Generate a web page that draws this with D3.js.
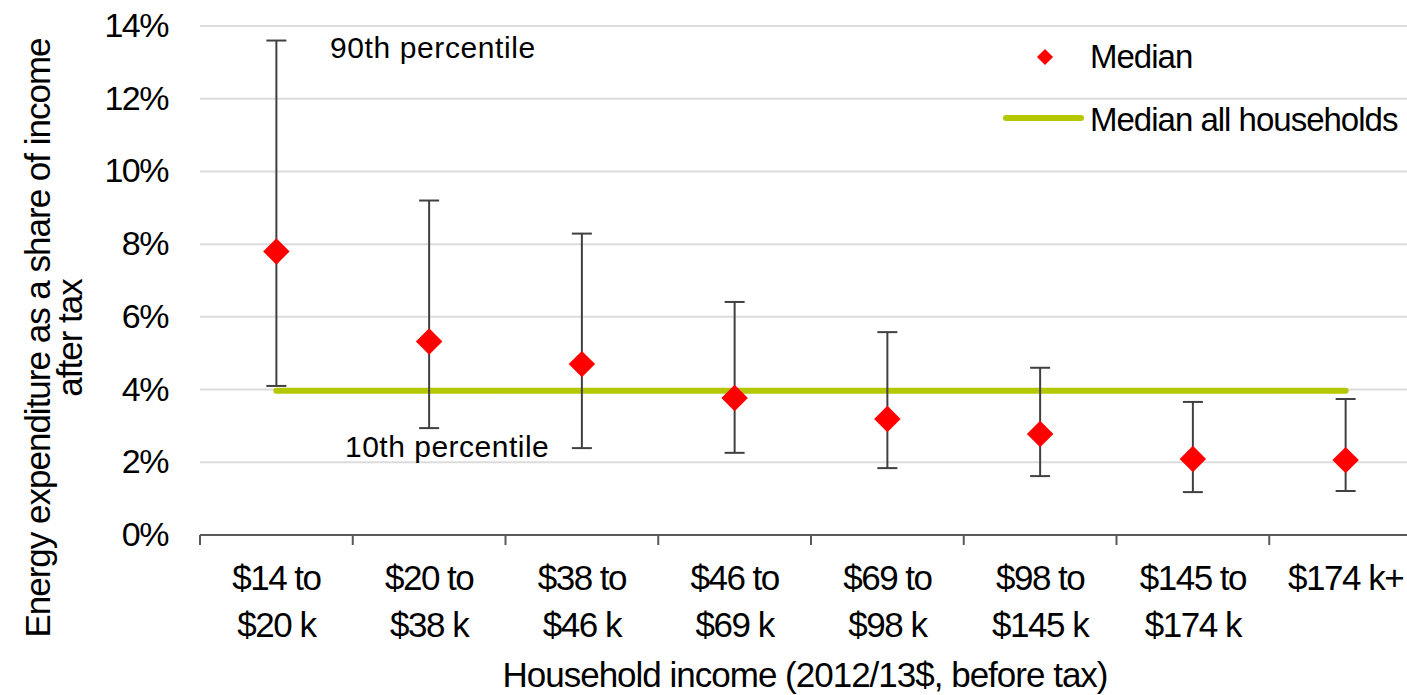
<!DOCTYPE html>
<html>
<head>
<meta charset="utf-8">
<script src="https://cdn.jsdelivr.net/npm/d3@7"></script>
<style>
  body { margin: 0; background: #fff; }
  svg text { font-family: "Liberation Sans", Arial, sans-serif; fill: #000; }
</style>
</head>
<body>
<div id="chart"></div>
<script>
// income groups, first and second lines of each tick label
var groups = ["g1", "g2", "g3", "g4", "g5", "g6", "g7", "g8"];
var labelTop = ["$14 to", "$20 to", "$38 to", "$46 to", "$69 to", "$98 to", "$145 to", "$174 k+"];
var labelBottom = ["$20 k", "$38 k", "$46 k", "$69 k", "$98 k", "$145 k", "$174 k", ""];

// energy expenditure share of after-tax income
var median = [0.078, 0.0532, 0.047, 0.0377, 0.0319, 0.0278, 0.0209, 0.0206];
var p90 = [0.136, 0.092, 0.0829, 0.0641, 0.0558, 0.046, 0.0366, 0.0374];
var p10 = [0.041, 0.0294, 0.0239, 0.0226, 0.0184, 0.0162, 0.0118, 0.0121];
var medianAll = 0.0397;

var yTicks = [0, 0.02, 0.04, 0.06, 0.08, 0.10, 0.12, 0.14];

function main() {
    var width = 1407, height = 695;

    var svg = d3.select("#chart")
        .append("svg")
        .attr("width", width)
        .attr("height", height);

    var x = d3.scaleBand()
        .domain(groups)
        .range([200, 1422])
        .padding(0);

    var y = d3.scaleLinear()
        .domain([0, 0.14])
        .range([535, 26]);

    // gridlines
    svg.append("g")
        .selectAll("line")
        .data(yTicks.slice(1))
        .enter()
        .append("line")
        .attr("x1", 200)
        .attr("x2", width)
        .attr("y1", function (d) { return y(d); })
        .attr("y2", function (d) { return y(d); })
        .attr("stroke", "#dcdcdc")
        .attr("stroke-width", 2);

    // y tick labels
    svg.append("g")
        .selectAll("text")
        .data(yTicks)
        .enter()
        .append("text")
        .attr("x", 168)
        .attr("y", function (d) { return y(d) + 11; })
        .attr("text-anchor", "end")
        .attr("font-size", "34px")
        .attr("letter-spacing", "-1.5px")
        .text(function (d) { return Math.round(d * 100) + "%"; });

    // x axis line and ticks at band edges
    var xAxis = svg.append("g");
    xAxis.append("line")
        .attr("x1", 200).attr("x2", width)
        .attr("y1", y(0)).attr("y2", y(0))
        .attr("stroke", "#595959")
        .attr("stroke-width", 2);
    xAxis.selectAll("line.tick")
        .data(groups)
        .enter()
        .append("line")
        .attr("class", "tick")
        .attr("x1", function (d) { return x(d); })
        .attr("x2", function (d) { return x(d); })
        .attr("y1", y(0))
        .attr("y2", y(0) + 10)
        .attr("stroke", "#595959")
        .attr("stroke-width", 2);

    // x tick labels (two lines)
    var cx = function (i) { return x(groups[i]) + x.bandwidth() / 2; };
    svg.append("g")
        .selectAll("text")
        .data(groups)
        .enter()
        .append("text")
        .attr("x", function (d, i) { return cx(i); })
        .attr("y", 590)
        .attr("text-anchor", "middle")
        .attr("font-size", "35px")
        .attr("letter-spacing", "-1.5px")
        .text(function (d, i) { return labelTop[i]; });
    svg.append("g")
        .selectAll("text")
        .data(groups)
        .enter()
        .append("text")
        .attr("x", function (d, i) { return cx(i); })
        .attr("y", 637)
        .attr("text-anchor", "middle")
        .attr("font-size", "35px")
        .attr("letter-spacing", "-1.5px")
        .text(function (d, i) { return labelBottom[i]; });

    // axis titles
    svg.append("text")
        .attr("x", 805)
        .attr("y", 687)
        .attr("text-anchor", "middle")
        .attr("font-size", "35px")
        .attr("letter-spacing", "-1px")
        .text("Household income (2012/13$, before tax)");

    var yTitle = svg.append("text")
        .attr("transform", "translate(50,338) rotate(-90)")
        .attr("text-anchor", "middle")
        .attr("font-size", "35px")
        .attr("letter-spacing", "-1px");
    yTitle.append("tspan").attr("x", 0).attr("y", 0).text("Energy expenditure as a share of income");
    yTitle.append("tspan").attr("x", 0).attr("y", 32).text("after tax");

    // median all households line
    svg.append("line")
        .attr("x1", cx(0))
        .attr("x2", cx(groups.length - 1))
        .attr("y1", y(medianAll))
        .attr("y2", y(medianAll))
        .attr("stroke", "#b5c700")
        .attr("stroke-width", 6)
        .attr("stroke-linecap", "round");

    // error bars from 10th to 90th percentile
    var bars = svg.append("g")
        .selectAll("g")
        .data(groups)
        .enter()
        .append("g")
        .attr("stroke", "#404040")
        .attr("stroke-width", 2);
    bars.append("line")
        .attr("x1", function (d, i) { return cx(i); })
        .attr("x2", function (d, i) { return cx(i); })
        .attr("y1", function (d, i) { return y(p10[i]); })
        .attr("y2", function (d, i) { return y(p90[i]); });
    bars.append("line")
        .attr("x1", function (d, i) { return cx(i) - 10; })
        .attr("x2", function (d, i) { return cx(i) + 10; })
        .attr("y1", function (d, i) { return y(p10[i]); })
        .attr("y2", function (d, i) { return y(p10[i]); });
    bars.append("line")
        .attr("x1", function (d, i) { return cx(i) - 10; })
        .attr("x2", function (d, i) { return cx(i) + 10; })
        .attr("y1", function (d, i) { return y(p90[i]); })
        .attr("y2", function (d, i) { return y(p90[i]); });

    // median diamonds
    var diamond = d3.symbol().type(d3.symbolSquare).size(350);
    svg.append("g")
        .selectAll("path")
        .data(groups)
        .enter()
        .append("path")
        .attr("d", diamond)
        .attr("transform", function (d, i) { return "translate(" + cx(i) + "," + y(median[i]) + ") rotate(45)"; })
        .attr("fill", "#ff0000");

    // percentile annotations
    svg.append("text")
        .attr("x", 330).attr("y", 58)
        .attr("font-size", "30px")
        .attr("letter-spacing", "0.6px")
        .text("90th percentile");
    svg.append("text")
        .attr("x", 345).attr("y", 457)
        .attr("font-size", "30px")
        .attr("letter-spacing", "0.5px")
        .text("10th percentile");

    // legend
    svg.append("path")
        .attr("d", d3.symbol().type(d3.symbolSquare).size(130))
        .attr("transform", "translate(1045,57) rotate(45)")
        .attr("fill", "#ff0000");
    svg.append("text")
        .attr("x", 1090).attr("y", 68)
        .attr("font-size", "33px")
        .attr("letter-spacing", "-1px")
        .text("Median");
    svg.append("line")
        .attr("x1", 1006).attr("x2", 1081)
        .attr("y1", 118).attr("y2", 118)
        .attr("stroke", "#b5c700")
        .attr("stroke-width", 6)
        .attr("stroke-linecap", "round");
    svg.append("text")
        .attr("x", 1090).attr("y", 131)
        .attr("font-size", "33px")
        .attr("letter-spacing", "-1px")
        .text("Median all households");
}
window.addEventListener('load', main);
</script>
</body>
</html>
